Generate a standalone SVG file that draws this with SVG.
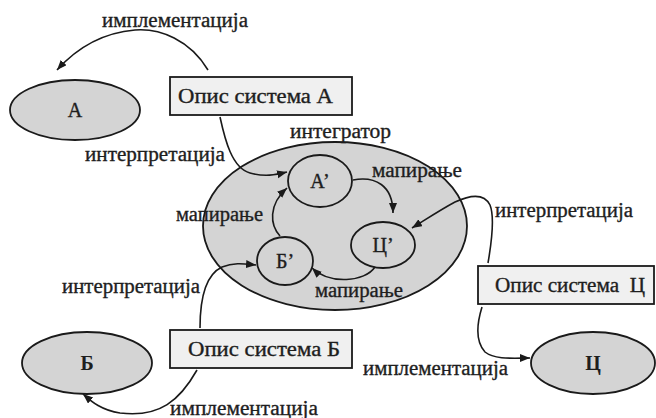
<svg xmlns="http://www.w3.org/2000/svg" width="656" height="418" viewBox="0 0 656 418">
  <style>
    .sys { fill: #d4d4d4; stroke: #1a1a1a; stroke-width: 1.8; }
    .box { fill: #f0f0f0; stroke: #1a1a1a; stroke-width: 1.8; }
    .lbl { font-family: "Liberation Serif", "DejaVu Serif", serif; font-size: 20px; fill: #1e1e1e; stroke: #1e1e1e; stroke-width: 0.35; }
    .big { font-family: "Liberation Serif", "DejaVu Serif", serif; font-size: 20px; fill: #1e1e1e; stroke: #1e1e1e; stroke-width: 0.35; text-anchor: middle; }
    .bold { font-weight: bold; stroke-width: 0; }
    .edge { fill: none; stroke: #1a1a1a; stroke-width: 1.6; marker-end: url(#tip); }
  </style>
  <defs>
    <marker id="tip" markerUnits="userSpaceOnUse" markerWidth="12" markerHeight="10" refX="10" refY="4" orient="auto">
      <path d="M0,0 L10,4 L0,8 Z" fill="#1a1a1a"/>
    </marker>
  </defs>

  <rect width="656" height="418" fill="#ffffff"/>

  <!-- integrator -->
  <g id="integrator">
    <ellipse class="sys" cx="335" cy="226" rx="132" ry="84"/>
    <text class="lbl" x="290" y="138" textLength="101" lengthAdjust="spacingAndGlyphs">интегратор</text>
  </g>

  <!-- systems -->
  <g id="sysA">
    <ellipse class="sys" cx="75" cy="110" rx="65" ry="30"/>
    <text class="big" x="75" y="117">А</text>
  </g>
  <g id="sysB">
    <ellipse class="sys" cx="87" cy="363" rx="65" ry="31"/>
    <text class="big bold" x="87" y="370">Б</text>
  </g>
  <g id="sysC">
    <ellipse class="sys" cx="593" cy="363" rx="62" ry="31"/>
    <text class="big bold" x="593" y="370">Ц</text>
  </g>

  <!-- descriptions -->
  <g id="descA">
    <rect class="box" x="170" y="77" width="182" height="38"/>
    <text class="lbl" x="178" y="103" font-size="21" textLength="155" lengthAdjust="spacingAndGlyphs">Опис система А</text>
  </g>
  <g id="descB">
    <rect class="box" x="170" y="330" width="182" height="38"/>
    <text class="lbl" x="188" y="356" font-size="21" textLength="152" lengthAdjust="spacingAndGlyphs">Опис система Б</text>
  </g>
  <g id="descC">
    <rect class="box" x="478" y="266" width="176" height="38"/>
    <text class="lbl" x="495" y="292" font-size="21" textLength="150" lengthAdjust="spacingAndGlyphs" xml:space="preserve">Опис система  Ц</text>
  </g>

  <!-- mapped models -->
  <g id="mapA">
    <ellipse class="sys" cx="320" cy="181" rx="32" ry="26"/>
    <text class="big" x="320" y="188">А’</text>
  </g>
  <g id="mapC">
    <ellipse class="sys" cx="383" cy="245" rx="32" ry="23"/>
    <text class="big" x="383" y="252">Ц’</text>
  </g>
  <g id="mapB">
    <ellipse class="sys" cx="285" cy="261" rx="28" ry="24"/>
    <text class="big" x="285" y="268">Б’</text>
  </g>

  <!-- connectors -->
  <g id="connectors">
    <path class="edge" d="M208,70 C190,40 160,28 135,30 C100,33 75,50 57,70"/>
    <path class="edge" d="M220,117 C225,140 232,168 250,173 C265,177 275,175 287,172"/>
    <path class="edge" d="M200,328 C200,300 205,275 222,267 C235,262 245,264 256,265"/>
    <path class="edge" d="M197,370 C180,400 160,418 120,413 C100,410 90,400 83,394"/>
    <path class="edge" d="M488,263 C492,240 494,215 490,205 C484,193 470,195 455,202 C440,210 425,220 412,228"/>
    <path class="edge" d="M482,307 C478,320 474,340 485,352 C495,360 515,358 530,358"/>
    <path class="edge" d="M353,180 C375,176 393,185 393,213"/>
    <path class="edge" d="M375,267 C365,282 330,285 312,268"/>
    <path class="edge" d="M280,236 C270,225 268,205 287,188"/>

    <text class="lbl" x="102" y="27" textLength="146" lengthAdjust="spacingAndGlyphs">имплементација</text>
    <text class="lbl" x="85" y="161" textLength="140" lengthAdjust="spacingAndGlyphs">интерпретација</text>
    <text class="lbl" x="372" y="177" textLength="90" lengthAdjust="spacingAndGlyphs">мапирање</text>
    <text class="lbl" x="176" y="221" textLength="87" lengthAdjust="spacingAndGlyphs">мапирање</text>
    <text class="lbl" x="315" y="297" textLength="88" lengthAdjust="spacingAndGlyphs">мапирање</text>
    <text class="lbl" x="495" y="217" textLength="138" lengthAdjust="spacingAndGlyphs">интерпретација</text>
    <text class="lbl" x="62" y="293" textLength="138" lengthAdjust="spacingAndGlyphs">интерпретација</text>
    <text class="lbl" x="363" y="375" textLength="145" lengthAdjust="spacingAndGlyphs">имплементација</text>
    <text class="lbl" x="170" y="415" textLength="148" lengthAdjust="spacingAndGlyphs">имплементација</text>
  </g>
</svg>
